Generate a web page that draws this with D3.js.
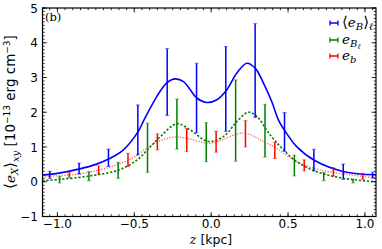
<!DOCTYPE html>
<html><head><meta charset="utf-8">
<script src="https://cdn.jsdelivr.net/npm/d3@7"></script>
<style>body{margin:0;background:#fff}svg{display:block}</style>
</head><body>
<svg id="c" width="382" height="249"></svg>
<script>
// ---- data ----
const xTicks = [-1.0, -0.5, 0.0, 0.5, 1.0];
const yTicks = [-1, 0, 1, 2, 3, 4, 5];

// <e_B>_l : error bars
const zBlue   = [-1.05, -0.859, -0.668, -0.477, -0.286, -0.095, 0.095, 0.286, 0.477, 0.668, 0.859, 1.05];
const valBlue = [0.20, 0.38, 0.69, 1.49, 2.87, 2.41, 2.67, 3.20, 1.43, 0.62, 0.29, 0.19];
const errBlue = [0.10, 0.16, 0.25, 0.72, 0.96, 1.00, 1.22, 1.35, 0.56, 0.31, 0.22, 0.085];
// e_{B_l} : error bars
const zGreen   = [-0.986, -0.795, -0.605, -0.414, -0.223, -0.032, 0.159, 0.350, 0.541, 0.732, 0.923];
const valGreen = [0.06, 0.16, 0.33, 0.98, 1.66, 1.14, 1.76, 1.47, 0.47, 0.15, 0.02];
const errGreen = [0.09, 0.13, 0.23, 0.71, 0.72, 0.56, 1.17, 0.76, 0.30, 0.115, 0.05];
// e_b : error bars
const zRed   = [-0.923, -0.732, -0.541, -0.350, -0.159, 0.032, 0.223, 0.414, 0.605, 0.795, 0.986];
const valRed = [0.19, 0.34, 0.63, 1.15, 1.20, 1.15, 1.38, 0.90, 0.47, 0.28, 0.16];
const errRed = [0.07, 0.12, 0.19, 0.23, 0.33, 0.30, 0.38, 0.23, 0.16, 0.12, 0.085];

// smooth profiles
const zCurveBlue = [-1.097, -1.0, -0.855, -0.75, -0.664, -0.571, -0.474, -0.44, -0.354, -0.29, -0.234, -0.18, -0.093, -0.028, 0.037, 0.102, 0.167, 0.232, 0.286, 0.340, 0.394, 0.437, 0.483, 0.556, 0.673, 0.864, 1.072];
const curveBlue  = [0.19, 0.24, 0.37, 0.50, 0.66, 0.92, 1.45, 1.75, 2.45, 2.84, 2.96, 2.88, 2.41, 2.28, 2.36, 2.65, 3.13, 3.41, 3.27, 2.84, 2.31, 1.78, 1.44, 1.01, 0.61, 0.29, 0.20];
const zCurveGreen = [-1.097, -0.98, -0.786, -0.60, -0.48, -0.41, -0.33, -0.223, -0.136, -0.02, 0.08, 0.167, 0.242, 0.297, 0.383, 0.47, 0.556, 0.686, 0.859, 1.072];
const curveGreen  = [0.03, 0.07, 0.17, 0.34, 0.63, 0.94, 1.30, 1.67, 1.49, 1.16, 1.30, 1.73, 2.00, 1.88, 1.35, 0.92, 0.58, 0.29, 0.10, 0.0];
const zCurveRed = [-1.097, -0.916, -0.725, -0.534, -0.418, -0.347, -0.234, -0.158, -0.006, 0.21, 0.34, 0.43, 0.47, 0.578, 0.708, 0.90, 1.072];
const curveRed  = [0.15, 0.20, 0.34, 0.63, 0.97, 1.16, 1.29, 1.25, 1.11, 1.40, 1.16, 0.95, 0.82, 0.53, 0.34, 0.20, 0.12];

const cBlue = "#0000ff", cGreen = "#008000", cRed = "#ff0000";

// ---- layout ----
const svg = d3.select("#c");
const L = 42.5, R = 376, T = 8, B = 216.5;
const x = d3.scaleLinear().domain([-1.097, 1.072]).range([L, R]);
const y = d3.scaleLinear().domain([-1, 5]).range([B, T]);

svg.append("defs").append("clipPath").attr("id", "clip")
  .append("rect").attr("x", L).attr("y", T).attr("width", R - L).attr("height", B - T);
const plot = svg.append("g").attr("clip-path", "url(#clip)");

function line(zs, vs) {
  return d3.line().x((d, i) => x(zs[i])).y((d, i) => y(vs[i])).curve(d3.curveCatmullRom.alpha(0.5))(vs);
}
plot.append("path").attr("d", line(zCurveRed, curveRed)).attr("fill", "none")
  .attr("stroke", cRed).attr("stroke-opacity", 0.6).attr("stroke-width", 1.4).attr("stroke-dasharray", "1.2,1.5");
plot.append("path").attr("d", line(zCurveGreen, curveGreen)).attr("fill", "none")
  .attr("stroke", cGreen).attr("stroke-width", 1.6).attr("stroke-dasharray", "2.2,1.8");
plot.append("path").attr("d", line(zCurveBlue, curveBlue)).attr("fill", "none")
  .attr("stroke", cBlue).attr("stroke-width", 1.6);

function errbars(zs, vs, es, col) {
  const g = plot.append("g");
  const d = zs.map((z, i) => ({z, v: vs[i], e: es[i]}));
  g.selectAll("line.v").data(d).join("line")
    .attr("x1", p => x(p.z)).attr("x2", p => x(p.z))
    .attr("y1", p => y(p.v - p.e)).attr("y2", p => y(p.v + p.e))
    .attr("stroke", col).attr("stroke-width", 1.5);
  ["lo", "hi"].forEach(k => {
    g.selectAll("line." + k).data(d).join("line")
      .attr("x1", p => x(p.z) - 2).attr("x2", p => x(p.z) + 2)
      .attr("y1", p => y(k === "lo" ? p.v - p.e : p.v + p.e))
      .attr("y2", p => y(k === "lo" ? p.v - p.e : p.v + p.e))
      .attr("stroke", col).attr("stroke-opacity", 0.45).attr("stroke-width", 1.2);
  });
}
errbars(zBlue, valBlue, errBlue, cBlue);
errbars(zGreen, valGreen, errGreen, cGreen);
errbars(zRed, valRed, errRed, cRed);

// ---- axes ----
const axG = svg.append("g");
const xMinor = d3.range(-1.05, 1.0701, 0.05).map(v => +v.toFixed(2));
const yMinor = d3.range(-1, 5.001, 0.1).map(v => +v.toFixed(1));
function tk(vals, isX, len) {
  vals.forEach(v => {
    if (isX) {
      const px = x(v);
      axG.append("line").attr("x1", px).attr("x2", px).attr("y1", B).attr("y2", B - len).attr("stroke", "#000").attr("stroke-width", 0.8);
      axG.append("line").attr("x1", px).attr("x2", px).attr("y1", T).attr("y2", T + len).attr("stroke", "#000").attr("stroke-width", 0.8);
    } else {
      const py = y(v);
      axG.append("line").attr("x1", L).attr("x2", L + len).attr("y1", py).attr("y2", py).attr("stroke", "#000").attr("stroke-width", 0.8);
      axG.append("line").attr("x1", R).attr("x2", R - len).attr("y1", py).attr("y2", py).attr("stroke", "#000").attr("stroke-width", 0.8);
    }
  });
}
tk(xMinor, true, 2.2);
tk(xTicks, true, 4.5);
tk(yMinor, false, 2.2);
tk(yTicks, false, 4.5);
axG.append("rect").attr("x", L).attr("y", T).attr("width", R - L).attr("height", B - T)
  .attr("fill", "none").attr("stroke", "#000").attr("stroke-width", 1.2);

const fmt = v => (v < 0 ? "\u2212" : "") + Math.abs(v).toFixed(1);
axG.selectAll("text.xt").data(xTicks).join("text")
  .attr("x", d => x(d)).attr("y", 228).attr("text-anchor", "middle")
  .attr("font-family", "DejaVu Sans").attr("font-size", 12).text(fmt);
axG.selectAll("text.yt").data(yTicks).join("text")
  .attr("x", 38).attr("y", d => y(d) + 4.5).attr("text-anchor", "end")
  .attr("font-family", "DejaVu Sans").attr("font-size", 12)
  .text(d => (d < 0 ? "\u2212" : "") + Math.abs(d));

// x label
const xl = svg.append("text").attr("x", 211).attr("y", 243.5).attr("text-anchor", "middle")
  .attr("font-family", "DejaVu Sans").attr("font-size", 12.5);
xl.append("tspan").attr("font-family", "DejaVu Serif").attr("font-style", "italic").text("z");
xl.append("tspan").text(" [kpc]");

// y label
const yl = svg.append("text").attr("transform", "translate(15,112) rotate(-90)")
  .attr("text-anchor", "middle").attr("font-family", "DejaVu Sans").attr("font-size", 13.5);
yl.append("tspan").attr("font-family", "DejaVu Serif").attr("font-size", 15).text("\u27E8");
yl.append("tspan").attr("font-family", "DejaVu Serif").attr("font-style", "italic").text("e");
yl.append("tspan").attr("font-family", "DejaVu Serif").attr("font-style", "italic").attr("font-size", 10).attr("dy", 3).text("X");
yl.append("tspan").attr("font-family", "DejaVu Serif").attr("font-size", 15).attr("dy", -3).text("\u27E9");
yl.append("tspan").attr("font-family", "DejaVu Serif").attr("font-style", "italic").attr("font-size", 10).attr("dy", 3.5).text("xy");
yl.append("tspan").attr("dy", -3.5).text(" [10");
yl.append("tspan").attr("font-size", 9).attr("dy", -5.5).text("\u221213");
yl.append("tspan").attr("dy", 5.5).text(" erg cm");
yl.append("tspan").attr("font-size", 9).attr("dy", -5.5).text("\u22123");
yl.append("tspan").attr("dy", 5.5).text("]");

// panel tag
svg.append("text").attr("x", 45).attr("y", 21).attr("font-family", "DejaVu Serif").attr("font-size", 11.5).text("(b)");

// legend
const legend = [
  {col: cBlue, y: 23},
  {col: cGreen, y: 40},
  {col: cRed, y: 56}
];
legend.forEach((d, i) => {
  const g = svg.append("g");
  const x0 = 330, x1 = 338;
  g.append("line").attr("x1", x0).attr("x2", x1).attr("y1", d.y).attr("y2", d.y).attr("stroke", d.col).attr("stroke-width", 1.5);
  [x0, x1].forEach(xx => g.append("line").attr("x1", xx).attr("x2", xx).attr("y1", d.y - 2.5).attr("y2", d.y + 2.5).attr("stroke", d.col).attr("stroke-width", 1.3));
  const t = svg.append("text").attr("x", 342).attr("y", d.y + 4).attr("font-family", "DejaVu Serif").attr("font-size", 13.5);
  if (i === 0) {
    t.append("tspan").attr("font-size", 15).text("\u27E8");
    t.append("tspan").attr("font-style", "italic").text("e");
    t.append("tspan").attr("font-style", "italic").attr("font-size", 10).attr("dy", 3).text("B");
    t.append("tspan").attr("font-size", 15).attr("dy", -3).text("\u27E9");
    t.append("tspan").attr("font-style", "italic").attr("font-size", 10).attr("dy", 3).text("\u2113");
  } else if (i === 1) {
    t.append("tspan").attr("font-style", "italic").text("e");
    t.append("tspan").attr("font-style", "italic").attr("font-size", 10).attr("dy", 3).text("B");
    t.append("tspan").attr("font-style", "italic").attr("font-size", 7.5).attr("dy", 2).text("\u2113");
  } else {
    t.append("tspan").attr("font-style", "italic").text("e");
    t.append("tspan").attr("font-style", "italic").attr("font-size", 10).attr("dy", 3).text("b");
  }
});
</script>
</body></html>
